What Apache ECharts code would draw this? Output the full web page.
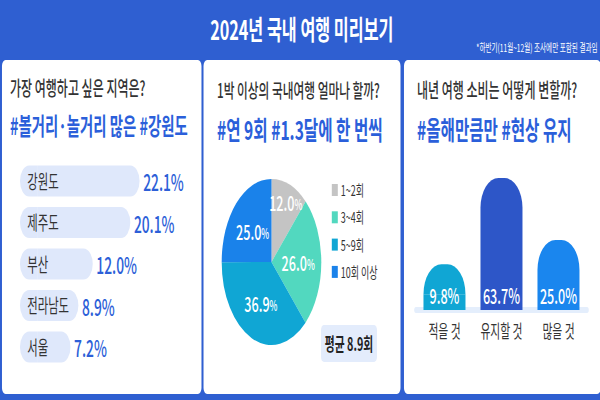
<!DOCTYPE html>
<html>
<head>
<meta charset="UTF-8">
<title>2024년 국내 여행 미리보기</title>
<script type="text/javascript" src="https://cdn.jsdelivr.net/npm/echarts@6.0.0/dist/echarts.min.js"></script>
<style>
html, body { margin: 0; padding: 0; overflow: hidden; background: #2f5fd1; }
/* the picture is drawn wide and squeezed to 600px, like the condensed original */
#chart { width: 1000px; height: 400px; transform: scaleX(0.6); transform-origin: 0 0; }
</style>
</head>
<body>
<div id="chart"></div>

<script type="text/javascript">
// 가장 여행하고 싶은 지역
var regionNames = ['강원도', '제주도', '부산', '전라남도', '서울'];
var regionShare = [22.1, 20.1, 12.0, 8.9, 7.2];

// 1박 이상 국내여행 횟수
var tripNames = ['1~2회', '3~4회', '5~9회', '10회 이상'];
var tripShare = [12.0, 26.0, 36.9, 25.0];

// 내년 여행 소비
var spendNames = ['적을 것', '유지할 것', '많을 것'];
var spendShare = [9.8, 63.7, 25.0];

var FONT = 'Noto Sans CJK KR';
var BLUE = '#2f5fd1';
var TAG = '#2b5fda';
var tripColors = ['#c4c4c4', '#52d8bf', '#10a6d4', '#1a82ea'];
var spendColors = ['#10a6d4', '#2d56c8', '#1a86ee'];
var PILL_PAD = 3.7;   // rounded left end of the pills
var CAP = 18.75;      // dome on top of the columns
var PIE_C = [452.5, 262];

function pct(v) { return v.toFixed(1) + '%'; }

function txt(text, x, y, size, color, weight, align) {
	return {
		type: 'text', z: 10,
		style: {
			text: text, x: x, y: y, fill: color,
			fontSize: size, fontFamily: FONT, fontWeight: weight || 'normal',
			align: align || 'left', verticalAlign: 'middle'
		}
	};
}

function panel(x, w) {
	return { type: 'rect', z: 0, shape: { x: x, y: 60, width: w, height: 334, r: 6 }, style: { fill: '#ffffff' } };
}

document.addEventListener('DOMContentLoaded', function () {
	var chart = echarts.init(document.getElementById('chart'), null, { renderer: 'svg' });

	var option = {
		backgroundColor: BLUE,
		animation: false,
		textStyle: { fontFamily: FONT },
		graphic: [
			panel(3.3, 332.5),
			panel(339.2, 328.3),
			panel(673.3, 328),
			txt('2024년 국내 여행 미리보기', 503, 28, 27, '#ffffff', 'bold', 'center'),
			txt('*하반기(11월~12월) 조사에만 포함된 결과임', 996, 47, 11, '#ffffff', 'normal', 'right'),
			txt('가장 여행하고 싶은 지역은?', 16.7, 88, 20, '#333333', 500),
			txt('#볼거리·놀거리 많은 #강원도', 16.7, 125, 24, TAG, 'bold'),
			txt('1박 이상의 국내여행 얼마나 할까?', 361.7, 90, 19.5, '#333333', 500),
			txt('#연 9회 #1.3달에 한 번씩', 361.7, 128, 26, TAG, 'bold'),
			txt('내년 여행 소비는 어떻게 변할까?', 695, 90, 20, '#333333', 500),
			txt('#올해만큼만 #현상 유지', 695, 128, 26, TAG, 'bold'),
			{ type: 'rect', z: 1, shape: { x: 535, y: 325, width: 93.3, height: 37, r: 5 }, style: { fill: '#e3ecfc' } },
			txt('평균 8.9회', 581.7, 343.5, 18, '#222222', 'bold', 'center')
		],
		legend: {
			data: tripNames,
			orient: 'vertical',
			left: 548, top: 177.5,
			icon: 'rect', itemWidth: 10, itemHeight: 12, itemGap: 12.3,
			textStyle: { fontSize: 15, color: '#333333', fontFamily: FONT }
		},
		grid: [
			{ left: 33.3, top: 160.25, width: 309, height: 207.5 },
			{ left: 693.3, top: 150, width: 285, height: 160 }
		],
		xAxis: [
			{ type: 'value', gridIndex: 0, min: 0, max: 40, show: false },
			{
				type: 'category', gridIndex: 1, data: spendNames, offset: 3,
				axisLine: { lineStyle: { color: '#e4eefc', width: 6 } },
				axisTick: { show: false },
				axisLabel: { color: '#333333', fontSize: 18, margin: 8 }
			}
		],
		yAxis: [
			{
				type: 'category', gridIndex: 0, data: regionNames, inverse: true, z: 10,
				axisLine: { show: false }, axisTick: { show: false },
				axisLabel: { inside: true, margin: 12, color: '#333333', fontSize: 19 }
			},
			{ type: 'value', gridIndex: 1, min: 0, max: 100, show: false }
		],
		series: [
			//지역 - 왼쪽 둥근 끝
			{
				type: 'bar', xAxisIndex: 0, yAxisIndex: 0, stack: 'region', silent: true,
				barWidth: 31,
				data: regionNames.map(function () { return PILL_PAD; }),
				itemStyle: { color: '#dfe8fb', borderRadius: [15.5, 0, 0, 15.5] }
			},
			//지역 - 값
			{
				type: 'bar', xAxisIndex: 0, yAxisIndex: 0, stack: 'region',
				barWidth: 31,
				data: regionShare,
				itemStyle: { color: '#dfe8fb', borderRadius: [0, 15.5, 15.5, 0] },
				label: {
					show: true, position: 'right', distance: 6,
					color: '#2d5fd8', fontSize: 23, fontWeight: 500,
					formatter: function (p) { return pct(p.value); }
				}
			},
			//여행 횟수 파이
			{
				type: 'pie', center: PIE_C, radius: 83, startAngle: 90,
				avoidLabelOverlap: false,
				data: tripNames.map(function (n, i) {
					return { name: n, value: tripShare[i], itemStyle: { color: tripColors[i] } };
				}),
				label: {
					show: true, position: 'inside',
					formatter: function (p) { return '{n|' + p.value.toFixed(1) + '}{p|%}'; },
					rich: {
						n: { color: '#ffffff', fontSize: 21, fontWeight: 500, fontFamily: FONT },
						p: { color: '#ffffff', fontSize: 14, fontWeight: 500, fontFamily: FONT, padding: [4, 0, 0, 0] }
					}
				},
				//작은 조각의 라벨은 바깥쪽으로 밀기
				labelLayout: function (p) {
					if (tripShare[p.dataIndex] >= 15) return { hideOverlap: false };
					var r = p.labelRect;
					var lx = r.x + r.width / 2, ly = r.y + r.height / 2;
					return { hideOverlap: false, dx: (lx - PIE_C[0]) * 0.45, dy: (ly - PIE_C[1]) * 0.45 };
				},
				labelLine: { show: false },
				emphasis: { disabled: true }
			},
			//소비 - 값
			{
				type: 'bar', xAxisIndex: 1, yAxisIndex: 1, stack: 'spend', z: 3,
				barWidth: 70,
				data: spendShare,
				itemStyle: { color: function (p) { return spendColors[p.dataIndex]; } },
				label: {
					show: true, position: 'insideBottom', distance: 5,
					color: '#ffffff', fontSize: 21, fontWeight: 500,
					formatter: function (p) { return pct(p.value); }
				}
			},
			//소비 - 둥근 윗부분
			{
				type: 'bar', xAxisIndex: 1, yAxisIndex: 1, stack: 'spend', silent: true,
				barWidth: 70,
				data: spendNames.map(function () { return CAP; }),
				itemStyle: {
					color: function (p) { return spendColors[p.dataIndex]; },
					borderRadius: [30, 30, 0, 0]
				}
			}
		]
	};

	chart.setOption(option, true);
});
</script>
</body>
</html>
